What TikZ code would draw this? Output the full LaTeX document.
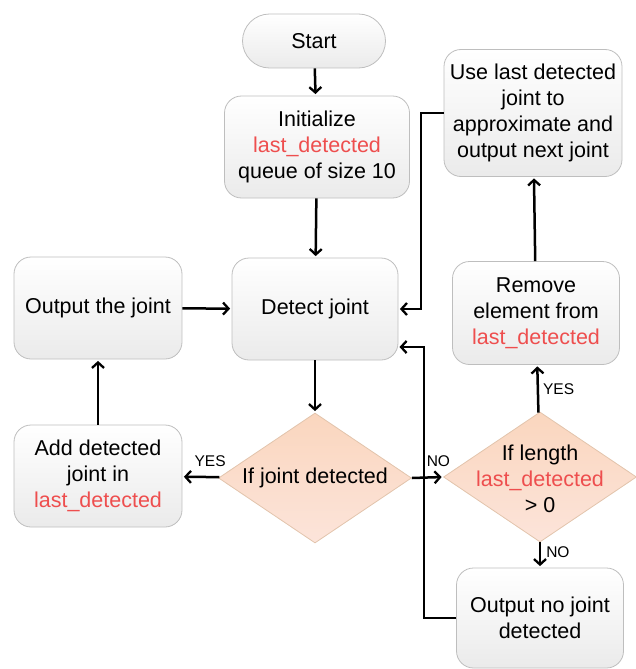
\documentclass[tikz,border=0pt]{standalone}
\usepackage{fontspec}
\setmainfont{Liberation Sans}
\usetikzlibrary{shapes.geometric,arrows.meta}
\definecolor{redtxt}{RGB}{238,78,78}
\definecolor{boxline}{RGB}{190,190,190}
\definecolor{diatop}{RGB}{250,214,190}
\definecolor{diabot}{RGB}{252,228,218}
\definecolor{dialine}{RGB}{226,196,172}
\newcommand{\ld}{\textcolor{redtxt}{last\_detected}}
\tikzset{
  box/.style={draw=boxline, line width=0.8pt, rounded corners=17pt, top color=white, bottom color=black!8,
    align=center, inner sep=0pt, font=\fontsize{21.5}{26}\selectfont},
  dia/.style={diamond, draw=dialine, line width=0.8pt, top color=diatop, bottom color=diabot,
    inner sep=0pt, minimum width=193pt, minimum height=130pt},
  diatext/.style={align=center, inner sep=0pt, font=\fontsize{21.5}{26}\selectfont},
  lab/.style={font=\fontsize{15.5}{18}\selectfont, inner sep=0pt},
  arr/.style={line width=2.5pt, -{Straight Barb[length=5.5pt,width=12pt,line width=2.3pt]}, shorten >=1.5pt}
}
\begin{document}
\begin{tikzpicture}[x=1pt,y=-1pt]
\useasboundingbox (0,0) rectangle (636,669);
\node[box, rounded corners=27pt, minimum width=143pt, minimum height=54pt] (start) at (314,41) {Start};
\node[box, minimum width=185pt, minimum height=102pt] (init) at (317,147) {Initialize\\\ld\\queue of size 10};
\node[box, minimum width=178pt, minimum height=127pt] (use) at (533,113) {Use last detected\\joint to\\approximate and\\output next joint};
\node[box, minimum width=168pt, minimum height=102pt] (out) at (98,308) {Output the joint};
\node[box, minimum width=166pt, minimum height=102pt] (det) at (315,309) {Detect joint};
\node[box, minimum width=167pt, minimum height=103pt] (rem) at (536,313) {Remove\\element from\\\ld};
\node[box, minimum width=168pt, minimum height=102pt] (add) at (98,476) {Add detected\\joint in\\\ld};
\node[dia] (d1) at (315,478) {};
\node[diatext] (d1t) at (d1) {If joint detected};
\node[dia] (d2) at (540,477) {};
\node[diatext] (d2t) at (540,479) {If length\\\ld\\> 0};
\node[box, minimum width=167pt, minimum height=100pt] (none) at (540,618) {Output no joint\\detected};

\coordinate (c1) at (421,113);
\coordinate (c2) at (421,309);
\coordinate (c3) at (424,618);
\coordinate (c4) at (424,347);
\coordinate (c5) at (398,347);

\draw[arr] (start) -- (init);
\draw[arr] (init) -- (det);
\draw[arr] (out) -- (det);
\draw[arr] (det) -- (d1);
\draw[arr] (d1) -- (add) node[lab, pos=0.25, above=9pt] {YES};
\draw[arr] (add) -- (out);
\draw[arr] (d1.east) -- (d2.west) node[lab, pos=0.85, above=9pt] {NO};
\draw[arr] (d2) -- (rem) node[lab, pos=0.5, right=4pt] {YES};
\draw[arr] (rem) -- (use);
\draw[arr] (d2) -- (none) node[lab, pos=0.4, right=5pt] {NO};
\draw[arr] (use.west) -- (c1) -- (c2) -- (det.east |- c2);
\draw[arr] (none.west) -- (c3) -- (c4) -- (c5);
\end{tikzpicture}
\end{document}
